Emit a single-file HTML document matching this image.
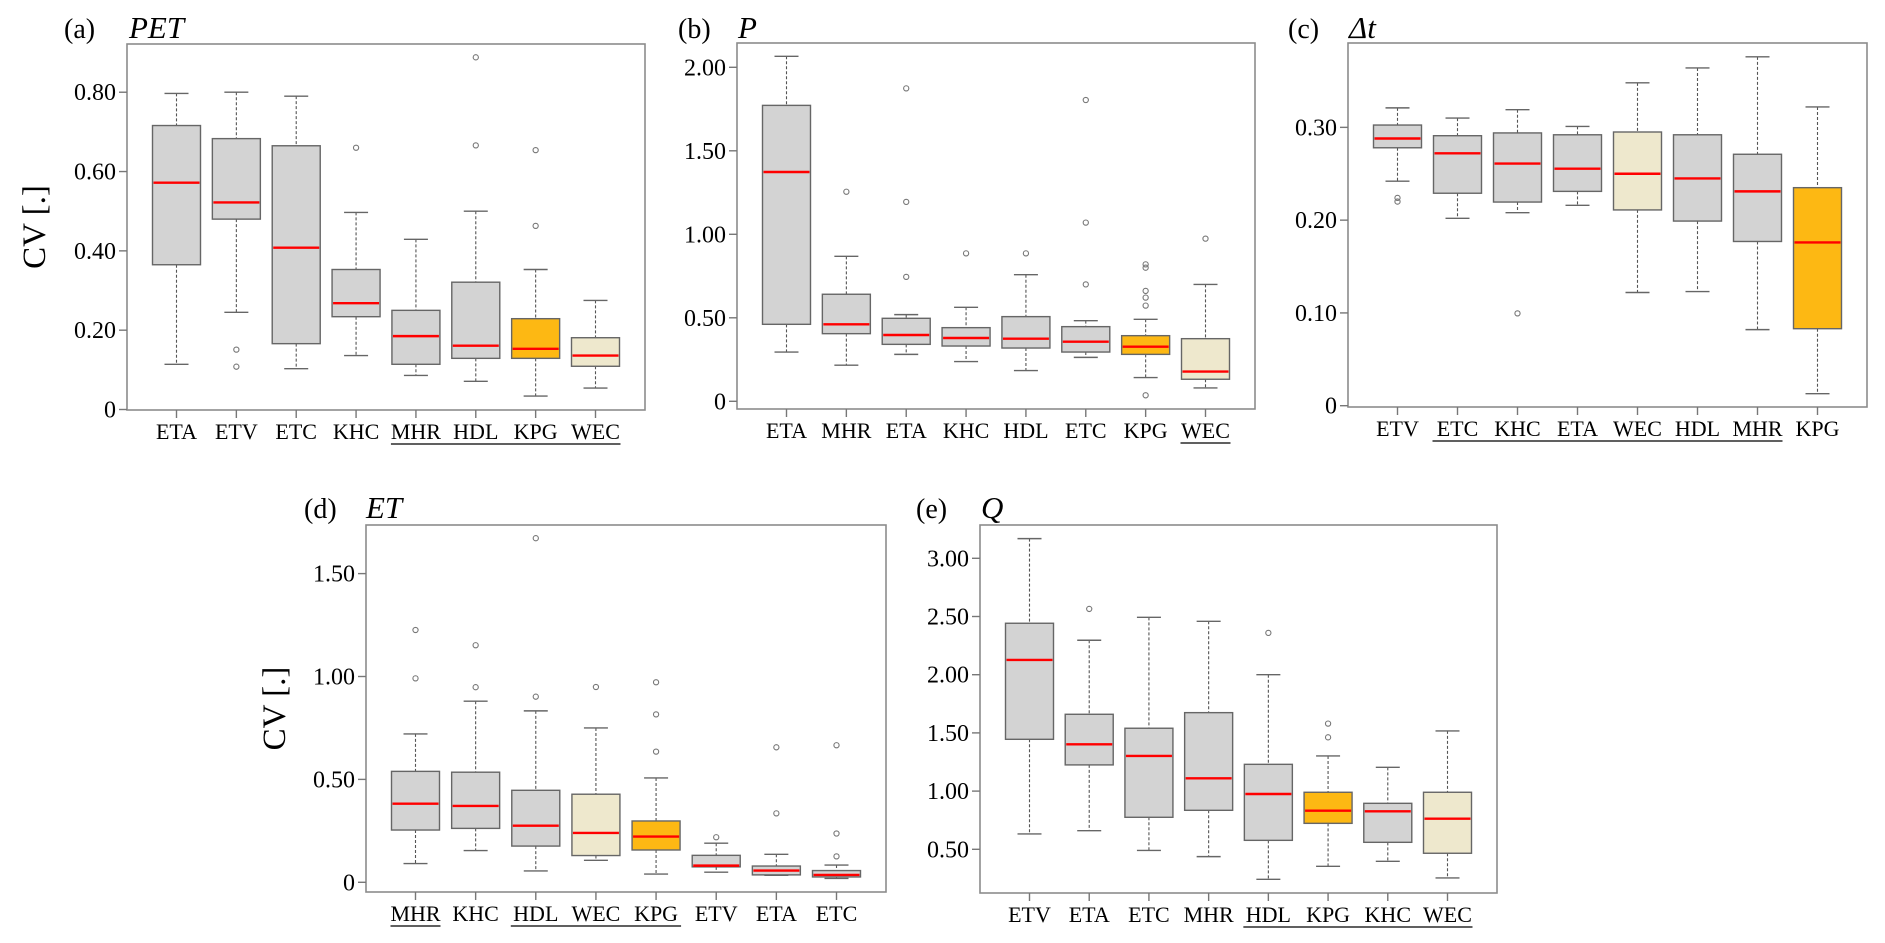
<!DOCTYPE html>
<html><head><meta charset="utf-8">
<style>
html,body{margin:0;padding:0;background:#fff;}
svg{display:block;font-family:"Liberation Serif",serif;}
svg text{font-family:"Liberation Serif","Times New Roman",serif;}
</style></head>
<body>
<svg id="chart" width="1885" height="943" viewBox="0 0 1885 943" xmlns="http://www.w3.org/2000/svg"></svg>
<script>
// Panel (a) PET
const catsA = ["ETA","ETV","ETC","KHC","MHR","HDL","KPG","WEC"];
const loA  = [0.114,0.245,0.103,0.136,0.086,0.071,0.034,0.054];
const q1A  = [0.365,0.480,0.166,0.234,0.114,0.129,0.129,0.109];
const medA = [0.572,0.522,0.408,0.268,0.185,0.161,0.153,0.136];
const q3A  = [0.716,0.683,0.665,0.353,0.250,0.321,0.229,0.181];
const hiA  = [0.797,0.800,0.790,0.497,0.429,0.500,0.353,0.275];
const outA = [[],[0.151,0.108],[],[0.660],[],[0.888,0.666],[0.654,0.463],[]];
const ticksA = [0,0.2,0.4,0.6,0.8];
const tickLabA = ["0","0.20","0.40","0.60","0.80"];

// Panel (b) P
const catsB = ["ETA","MHR","ETA","KHC","HDL","ETC","KPG","WEC"];
const loB  = [0.295,0.216,0.281,0.238,0.184,0.263,0.142,0.080];
const q1B  = [0.461,0.405,0.341,0.331,0.319,0.295,0.281,0.132];
const medB = [1.373,0.461,0.397,0.379,0.375,0.357,0.327,0.178];
const q3B  = [1.772,0.641,0.497,0.441,0.507,0.447,0.393,0.375];
const hiB  = [2.066,0.868,0.519,0.563,0.758,0.483,0.491,0.700];
const outB = [[],[1.255],[1.874,1.194,0.745],[0.886],[0.886],[1.804,1.070,0.700],[0.820,0.800,0.661,0.621,0.573,0.036],[0.974]];
const ticksB = [0,0.5,1.0,1.5,2.0];
const tickLabB = ["0","0.50","1.00","1.50","2.00"];

// Panel (c) Δt
const catsC = ["ETV","ETC","KHC","ETA","WEC","HDL","MHR","KPG"];
const loC  = [0.242,0.202,0.208,0.216,0.122,0.123,0.082,0.013];
const q1C  = [0.278,0.229,0.2195,0.231,0.211,0.199,0.177,0.083];
const medC = [0.288,0.272,0.261,0.2555,0.250,0.245,0.231,0.176];
const q3C  = [0.3025,0.291,0.294,0.292,0.295,0.292,0.271,0.235];
const hiC  = [0.321,0.310,0.319,0.301,0.348,0.364,0.376,0.322];
const outC = [[0.224,0.220],[],[0.0995],[],[],[],[],[]];
const ticksC = [0,0.1,0.2,0.3];
const tickLabC = ["0","0.10","0.20","0.30"];

// Panel (d) ET
const catsD = ["MHR","KHC","HDL","WEC","KPG","ETV","ETA","ETC"];
const loD  = [0.091,0.154,0.055,0.107,0.040,0.049,0.034,0.019];
const q1D  = [0.254,0.262,0.176,0.130,0.157,0.075,0.036,0.026];
const medD = [0.382,0.371,0.275,0.240,0.222,0.081,0.057,0.036];
const q3D  = [0.539,0.535,0.447,0.428,0.298,0.131,0.079,0.057];
const hiD  = [0.721,0.880,0.833,0.750,0.507,0.190,0.136,0.084];
const outD = [[1.226,0.991],[1.152,0.948],[1.672,0.902],[0.949],[0.972,0.816,0.635],[0.219],[0.656,0.335],[0.666,0.237,0.126]];
const ticksD = [0,0.5,1.0,1.5];
const tickLabD = ["0","0.50","1.00","1.50"];

// Panel (e) Q
const catsE = ["ETV","ETA","ETC","MHR","HDL","KPG","KHC","WEC"];
const loE  = [0.632,0.660,0.490,0.437,0.242,0.354,0.397,0.254];
const q1E  = [1.445,1.225,0.775,0.835,0.577,0.723,0.560,0.466];
const medE = [2.127,1.402,1.302,1.110,0.975,0.832,0.826,0.763];
const q3E  = [2.442,1.660,1.540,1.674,1.230,0.990,0.895,0.990];
const hiE  = [3.169,2.296,2.493,2.459,2.000,1.302,1.204,1.517];
const outE = [[],[2.565],[],[],[2.359],[1.580,1.462],[],[]];
const ticksE = [0.5,1.0,1.5,2.0,2.5,3.0];
const tickLabE = ["0.50","1.00","1.50","2.00","2.50","3.00"];

const NS = "http://www.w3.org/2000/svg";
const svg = document.getElementById("chart");
const FONT = '"Liberation Serif", "Times New Roman", serif';
function mk(tag, attrs, parent){
  const e = document.createElementNS(NS, tag);
  for (const k in attrs) e.setAttribute(k, attrs[k]);
  if (tag === "text") e.setAttribute("font-family", FONT);
  (parent||svg).appendChild(e);
  return e;
}

function drawPanel(p){
  const g = mk("g", {});
  
  
  const L=p.x0, R=p.x1, T=p.y0, B=p.y1;
  const yOf = v => p.zeroY - (v - p.refV) * p.ppu;
  const step = (R - L - 99) / (p.cats.length - 1);
  const xOf = i => L + 49.5 + i * step;
  const bw = 48, cw = 24;
  const fr = mk("rect", {x:L, y:T, width:R-L, height:B-T, fill:"none", stroke:"#8c8c8c", "stroke-width":1.6}, g);
  
  
  const lab = mk("text", {x:p.labX, y:p.labY, "font-size":28, fill:"#000"}, g);
  lab.textContent = p.label;
  
  
  const ttl = mk("text", {x:p.titleX, y:p.labY, "font-size":31, "font-style":"italic", fill:"#000"}, g);
  ttl.textContent = p.title;
  
  
  p.ticks.forEach((t,i)=>{
    const y = yOf(t);
    const tk = mk("line", {x1:L-8, x2:L, y1:y, y2:y, stroke:"#777", "stroke-width":1.4}, g);
    
    
    const tl = mk("text", {x:L-11, y:y+8, "font-size":24, "text-anchor":"end", fill:"#000"}, g);
    tl.textContent = p.tickLab[i];
    
    
  });
  if (p.yTitle){
    const yt = mk("text", {x:0, y:0, "font-size":33, "text-anchor":"middle", fill:"#000",
      transform:"translate("+p.yTitleX+","+((T+B)/2)+") rotate(-90)"}, g);
    yt.textContent = "CV [.]";
    
    
  }
  p.cats.forEach((c,i)=>{
    const x = xOf(i);
    const tk = mk("line", {x1:x, x2:x, y1:B, y2:B+8, stroke:"#777", "stroke-width":1.4}, g);
    
    
    const xl = mk("text", {x:x, y:B+29, "font-size":22, "text-anchor":"middle", fill:"#000"}, g);
    xl.textContent = c;
    
    
    const wh = mk("line", {x1:x, x2:x, y1:yOf(p.hi[i]), y2:yOf(p.q3[i]), stroke:"#555", "stroke-width":1.1, "stroke-dasharray":"3,2"}, g);
    
    
    const wl = mk("line", {x1:x, x2:x, y1:yOf(p.q1[i]), y2:yOf(p.lo[i]), stroke:"#555", "stroke-width":1.1, "stroke-dasharray":"3,2"}, g);
    
    
    const ch = mk("line", {x1:x-cw/2, x2:x+cw/2, y1:yOf(p.hi[i]), y2:yOf(p.hi[i]), stroke:"#666", "stroke-width":1.4}, g);
    
    
    const cl = mk("line", {x1:x-cw/2, x2:x+cw/2, y1:yOf(p.lo[i]), y2:yOf(p.lo[i]), stroke:"#666", "stroke-width":1.4}, g);
    
    
    let fill = "#d3d3d3";
    if (c === "KPG") fill = "#fdb813";
    if (c === "WEC") fill = "#eee8cd";
    const yq3 = yOf(p.q3[i]), yq1 = yOf(p.q1[i]);
    const bx = mk("rect", {x:x-bw/2, y:yq3, width:bw, height:Math.max(1,yq1-yq3), fill:fill, stroke:"#666", "stroke-width":1.4}, g);
    
    
    const md = mk("line", {x1:x-bw/2+1, x2:x+bw/2-1, y1:yOf(p.med[i]), y2:yOf(p.med[i]), stroke:"#ff0000", "stroke-width":2.4}, g);
    
    
    p.out[i].forEach(v=>{
      const o = mk("circle", {cx:x, cy:yOf(v), r:2.6, fill:"none", stroke:"#777", "stroke-width":1.1}, g);
      
      
    });
  });
  p.under.forEach(r=>{
    const x1 = xOf(r[0]) - 25, x2 = xOf(r[1]) + 25;
    const u = mk("line", {x1:x1, x2:x2, y1:B+34, y2:B+34, stroke:"#000", "stroke-width":1.3}, g);
    
    
  });
}

drawPanel({id:"a", x0:127, x1:645, y0:44, y1:410, zeroY:409.5, refV:0, ppu:396.6,
  cats:catsA, lo:loA, q1:q1A, med:medA, q3:q3A, hi:hiA, out:outA, ticks:ticksA, tickLab:tickLabA,
  label:"(a)", title:"PET", labX:64, titleX:129, labY:38, yTitle:true, yTitleX:45, under:[[4,7]]});
drawPanel({id:"b", x0:737, x1:1255, y0:43, y1:409, zeroY:401.3, refV:0, ppu:167,
  cats:catsB, lo:loB, q1:q1B, med:medB, q3:q3B, hi:hiB, out:outB, ticks:ticksB, tickLab:tickLabB,
  label:"(b)", title:"P", labX:678, titleX:738, labY:38, yTitle:false, under:[[7,7]]});
drawPanel({id:"c", x0:1348, x1:1867, y0:43, y1:407, zeroY:405.7, refV:0, ppu:927.8,
  cats:catsC, lo:loC, q1:q1C, med:medC, q3:q3C, hi:hiC, out:outC, ticks:ticksC, tickLab:tickLabC,
  label:"(c)", title:"\u0394t", labX:1288, titleX:1349, labY:38, yTitle:false, under:[[1,6]]});
drawPanel({id:"d", x0:366, x1:886, y0:525, y1:892, zeroY:882.3, refV:0, ppu:205.8,
  cats:catsD, lo:loD, q1:q1D, med:medD, q3:q3D, hi:hiD, out:outD, ticks:ticksD, tickLab:tickLabD,
  label:"(d)", title:"ET", labX:304, titleX:366, labY:518, yTitle:true, yTitleX:285, under:[[0,0],[2,4]]});
drawPanel({id:"e", x0:980, x1:1497, y0:525, y1:893, zeroY:849.3, refV:0.5, ppu:116.4,
  cats:catsE, lo:loE, q1:q1E, med:medE, q3:q3E, hi:hiE, out:outE, ticks:ticksE, tickLab:tickLabE,
  label:"(e)", title:"Q", labX:916, titleX:981, labY:518, yTitle:false, under:[[4,7]]});
</script>
</body></html>
